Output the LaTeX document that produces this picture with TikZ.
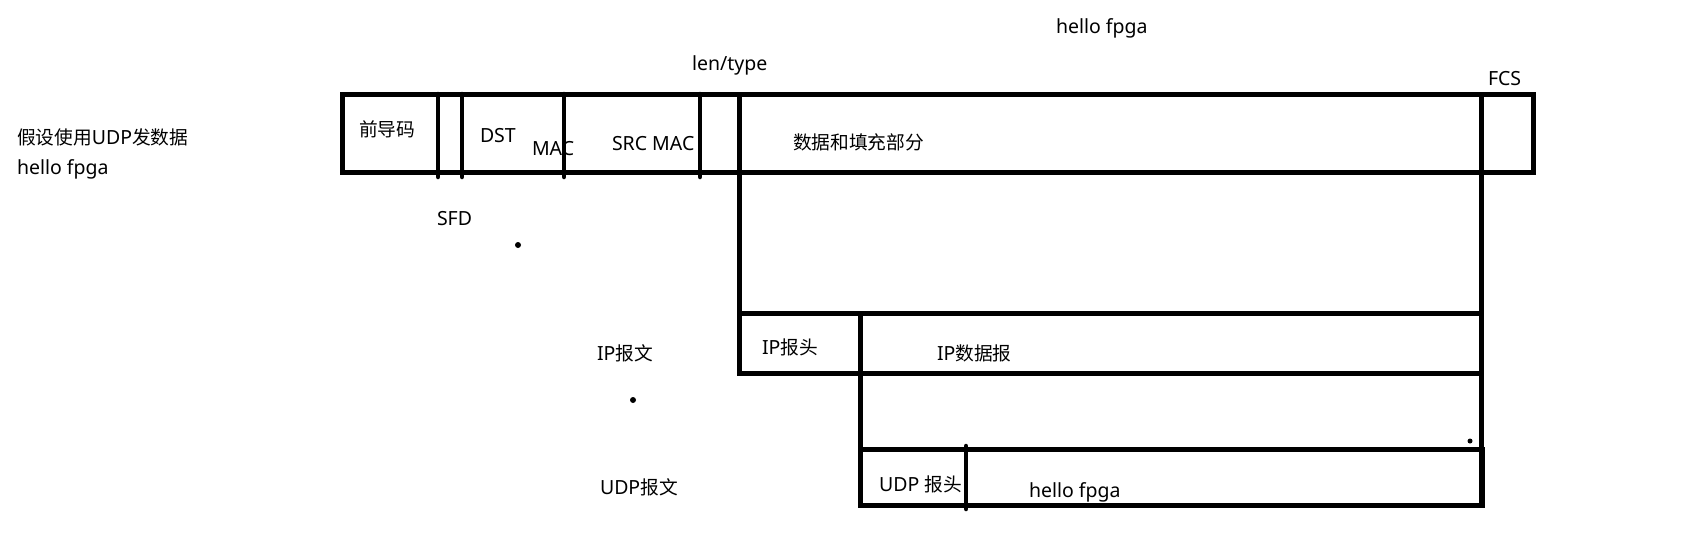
\documentclass[tikz,border=0pt]{standalone}
\usepackage{fontspec}
\setmainfont{Noto Sans}
\newfontfamily\cjk[Scale=0.96]{Noto Sans CJK SC}
\begin{document}
\begin{tikzpicture}[x=1pt,y=-1pt,
  every node/.style={inner sep=0pt,outer sep=0pt},
  lbl/.style={anchor=west,font=\fontsize{19.5}{21}\selectfont,yshift=-2pt},
  frame/.style={line width=5pt,line join=miter},
  divider/.style={line width=4.5pt,line cap=round},
  dot/.style={circle,fill=black,minimum size=6pt}]
\useasboundingbox (0,0) rectangle (1685,547);
% coordinates of frames
\coordinate (eTL) at (342,94);
\coordinate (eBR) at (1533,172);
\coordinate (ipTL) at (739,313);
\coordinate (ipBR) at (1481,373);
\coordinate (udTL) at (860,449);
\coordinate (udBR) at (1482,505);
% Ethernet frame
\draw[frame] (eTL) rectangle (eBR);
\foreach \x in {438,462,564,700}{
  \draw[divider] (\x,94) -- (\x,177);
}
% len/type line continuing down to IP frame
\draw[frame] (739,94) -- (739,373);
% FCS line continuing down to UDP frame
\draw[frame] (1481,94) -- (1481,505);
% IP frame
\draw[frame] (ipTL) rectangle (ipBR);
\draw[frame] (860,311) -- (860,449);
% UDP frame
\draw[frame] (udTL) rectangle (udBR);
\draw[divider] (966,446) -- (966,509);
% dots
\node[dot] (d1) at (518,245) {};
\node[dot] (d2) at (633,400) {};
\node[dot,minimum size=5pt] (d3) at (1470,441) {};
% labels
\node[lbl] (t1) at (1056,26) {hello fpga};
\node[lbl] (t2) at (692,63) {len/type};
\node[lbl] (t3) at (1488,77) {FCS};
\node[lbl] (t4) at (17,135) {{\cjk 假设使用}UDP{\cjk 发数据}};
\node[lbl] (t5) at (17,167) {hello fpga};
\node[lbl] (t6) at (359,127) {\cjk 前导码};
\node[lbl] (t7) at (480,134) {DST};
\node[lbl] (t8) at (532,147) {MAC};
\node[lbl] (t9) at (612,142) {SRC MAC};
\node[lbl] (t10) at (793,140) {\cjk 数据和填充部分};
\node[lbl] (t11) at (437,217) {SFD};
\node[lbl] (t12) at (597,351) {IP{\cjk 报文}};
\node[lbl] (t13) at (762,345) {IP{\cjk 报头}};
\node[lbl] (t14) at (937,351) {IP{\cjk 数据报}};
\node[lbl] (t15) at (600,485) {UDP{\cjk 报文}};
\node[lbl] (t16) at (879,482) {UDP {\cjk 报头}};
\node[lbl] (t17) at (1029,490) {hello fpga};
\end{tikzpicture}
\end{document}
